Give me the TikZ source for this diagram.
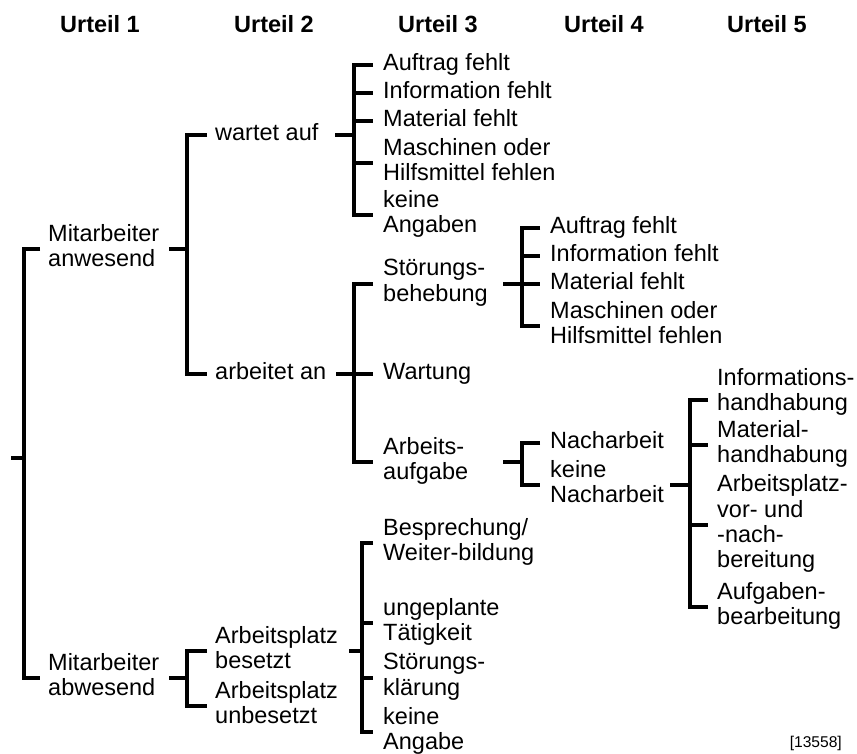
\documentclass[tikz,border=0pt]{standalone}
\usepackage{fontspec}
\setmainfont{Liberation Sans}
\usetikzlibrary{calc}
\newcommand\bodyfont{\fontsize{23.5}{25.3}\selectfont}
\newcommand\headfont{\fontsize{23.5}{25.3}\selectfont\bfseries}
\newcommand\notefont{\fontsize{15.6}{18}\selectfont}
\begin{document}
\begin{tikzpicture}[x=1pt,y=-1pt,
  lbl/.style={anchor=west,inner sep=0pt,align=left,font=\bodyfont,
    execute at begin node=\strut,execute at end node=\strut},
  head/.style={anchor=base,inner sep=0pt,font=\headfont},
  branch/.style={line width=3.1pt},
  stub/.style={line width=3.8pt},
]
\useasboundingbox (0,0) rectangle (857,754);

% column headings
\node[head] (u1) at (100,33) {Urteil 1};
\node[head] (u2) at (274,33) {Urteil 2};
\node[head] (u3) at (438,33) {Urteil 3};
\node[head] (u4) at (604,33) {Urteil 4};
\node[head] (u5) at (767,33) {Urteil 5};

% level 1
\node[lbl] (a1) at (48,249) {Mitarbeiter\\anwesend};
\node[lbl] (a2) at (48,678) {Mitarbeiter\\abwesend};

% level 2
\node[lbl] (b1) at (215,135) {wartet auf};
\node[lbl] (b2) at (215,374) {arbeitet an};
\node[lbl] (b3) at (215,651) {Arbeitsplatz\\besetzt};
\node[lbl] (b4) at (215,706) {Arbeitsplatz\\unbesetzt};

% level 3
\node[lbl] (c1) at (383,65)  {Auftrag fehlt};
\node[lbl] (c2) at (383,93)  {Information fehlt};
\node[lbl] (c3) at (383,121) {Material fehlt};
\node[lbl] (c4) at (383,163) {Maschinen oder\\Hilfsmittel fehlen};
\node[lbl] (c5) at (383,215) {keine\\Angaben};
\node[lbl] (d1) at (383,284) {Störungs-\\behebung};
\node[lbl] (d2) at (383,374) {Wartung};
\node[lbl] (d3) at (383,462) {Arbeits-\\aufgabe};
\node[lbl] (i1) at (383,543) {Besprechung/\\Weiter-bildung};
\node[lbl] (i2) at (383,623) {ungeplante\\Tätigkeit};
\node[lbl] (i3) at (383,678) {Störungs-\\klärung};
\node[lbl] (i4) at (383,732) {keine\\Angabe};

% level 4
\node[lbl] (e1) at (550,228) {Auftrag fehlt};
\node[lbl] (e2) at (550,256) {Information fehlt};
\node[lbl] (e3) at (550,284) {Material fehlt};
\node[lbl] (e4) at (550,326) {Maschinen oder\\Hilfsmittel fehlen};
\node[lbl] (f1) at (550,443) {Nacharbeit};
\node[lbl] (f2) at (550,485) {keine\\Nacharbeit};

% level 5
\node[lbl] (g1) at (717,393) {Informations-\\handhabung};
\node[lbl] (g2) at (717,445) {Material-\\handhabung};
\node[lbl] (g3) at (717,525) {Arbeitsplatz-\\vor- und\\-nach-\\bereitung};
\node[lbl] (g4) at (717,607) {Aufgaben-\\bearbeitung};

% note
\node[anchor=base east,inner sep=0pt,font=\notefont] (ref) at (842,747) {[13558]};

% x positions of the bracket spines
\coordinate (kr) at (24,0);
\coordinate (ka) at (187,0);
\coordinate (kb) at (354,0);
\coordinate (kh) at (362,0);
\coordinate (kd) at (522,0);
\coordinate (kf) at (690,0);

% root bracket
\coordinate (root) at (11,458);
\draw[branch] (root) -- (kr |- root);
\draw[branch] ($(a1.west)+(-8,0)$) -- (kr |- a1.west) -- (kr |- a2.west) -- ($(a2.west)+(-8,0)$);

% Mitarbeiter anwesend
\draw[stub] ($(ka |- a1.west)+(-18,0)$) -- (ka |- a1.west);
\draw[branch] ($(b1.west)+(-8,0)$) -- (ka |- b1.west) -- (ka |- b2.west) -- ($(b2.west)+(-8,0)$);

% Mitarbeiter abwesend
\draw[stub] ($(ka |- a2.west)+(-18,0)$) -- (ka |- a2.west);
\draw[branch] ($(b3.west)+(-8,0)$) -- (ka |- b3.west) -- (ka |- b4.west) -- ($(b4.west)+(-8,0)$);

% wartet auf
\draw[stub] ($(kb |- b1.west)+(-19,0)$) -- (kb |- b1.west);
\draw[branch] ($(c1.west)+(-10,0)$) -- (kb |- c1.west) -- (kb |- c5.west) -- ($(c5.west)+(-10,0)$);
\foreach \n in {c2,c3,c4}
  \draw[branch] (kb |- \n.west) -- ($(\n.west)+(-10,0)$);

% arbeitet an
\draw[stub] ($(kb |- b2.west)+(-18,0)$) -- (kb |- b2.west);
\draw[branch] ($(d1.west)+(-10,0)$) -- (kb |- d1.west) -- (kb |- d3.west) -- ($(d3.west)+(-10,0)$);
\draw[branch] (kb |- d2.west) -- ($(d2.west)+(-10,0)$);

% Arbeitsplatz besetzt
\draw[stub] ($(kh |- b3.west)+(-13,0)$) -- (kh |- b3.west);
\draw[branch] ($(i1.west)+(-10,0)$) -- (kh |- i1.west) -- (kh |- i4.west) -- ($(i4.west)+(-10,0)$);
\foreach \n in {i2,i3}
  \draw[branch] (kh |- \n.west) -- ($(\n.west)+(-10,0)$);

% Stoerungsbehebung
\draw[stub] ($(kd |- d1.west)+(-19,0)$) -- (kd |- d1.west);
\draw[branch] ($(e1.west)+(-10,0)$) -- (kd |- e1.west) -- (kd |- e4.west) -- ($(e4.west)+(-10,0)$);
\foreach \n in {e2,e3}
  \draw[branch] (kd |- \n.west) -- ($(\n.west)+(-10,0)$);

% Arbeitsaufgabe
\draw[stub] ($(kd |- d3.west)+(-19,0)$) -- (kd |- d3.west);
\draw[branch] ($(f1.west)+(-10,0)$) -- (kd |- f1.west) -- (kd |- f2.west) -- ($(f2.west)+(-10,0)$);

% keine Nacharbeit
\coordinate (g1b) at ($(g1.west)+(0,7)$);
\draw[stub] ($(kf |- f2.west)+(-20,0)$) -- (kf |- f2.west);
\draw[branch] ($(g1b)+(-9,0)$) -- (kf |- g1b) -- (kf |- g4.west) -- ($(g4.west)+(-9,0)$);
\foreach \n in {g2,g3}
  \draw[branch] (kf |- \n.west) -- ($(\n.west)+(-9,0)$);
\end{tikzpicture}
\end{document}
